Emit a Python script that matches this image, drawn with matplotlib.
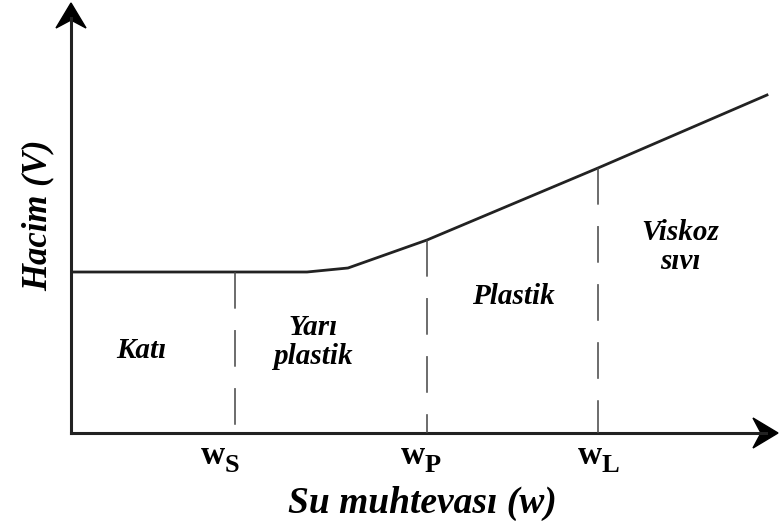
import matplotlib.pyplot as plt
from matplotlib.patches import Polygon

# Hacim - su muhtevasi iliskisi (kivam limitleri)
w_curve = [0, 236, 277, 356, 527, 696]
v_curve = [161, 161, 165, 193, 265, 338]

limit_subs = ['S', 'P', 'L']
limit_w = [164, 356, 527]
limit_label_w = [142, 342, 519]

region_names = ['Katı', 'Yarı\nplastik', 'Plastik', 'Viskoz\nsıvı']
region_w = [70, 242, 442, 609]
region_v = [83, 91, 136, 186]

plt.rcParams['font.family'] = ['Liberation Serif', 'DejaVu Serif']

fig = plt.figure(figsize=(7.81, 5.21), dpi=100)
ax = fig.add_axes([71 / 781, 88 / 521, 707 / 781, 430 / 521])
ax.set_xlim(0, 707)
ax.set_ylim(0, 430)
ax.axis('off')

# axes lines with arrow heads
ax.plot([0, 0], [0, 415], color='#222222', lw=2.2, clip_on=False)
ax.plot([0, 695], [0, 0], color='#222222', lw=2.2, clip_on=False)
ax.add_patch(Polygon([(0, 430), (-15, 405), (0, 413), (15, 405)], closed=True,
                     color='black', clip_on=False))
ax.add_patch(Polygon([(707, 0), (682, 15), (690, 0), (682, -15)], closed=True,
                     color='black', clip_on=False))

ax.plot(w_curve, v_curve, color='#222222', lw=2)

for sub, w, lw_ in zip(limit_subs, limit_w, limit_label_w):
    top = 0
    for i in range(len(w_curve) - 1):
        if w_curve[i] <= w <= w_curve[i + 1]:
            f = (w - w_curve[i]) / (w_curve[i + 1] - w_curve[i])
            top = v_curve[i] + f * (v_curve[i + 1] - v_curve[i])
    # dashes start at the curve and run down to the axis
    ax.plot([w, w], [top, 0], color='#444444', lw=1.1, dashes=(24, 14))
    ax.text(lw_, -22, 'w', fontsize=24, fontweight='bold', ha='center', va='center')
    ax.text(lw_ + 12, -33, sub, fontsize=19, fontweight='bold', ha='left', va='center')

for name, w, v in zip(region_names, region_w, region_v):
    ax.text(w, v, name, fontsize=21, fontweight='bold', fontstyle='italic',
            ha='center', va='center', linespacing=1.05)

ax.text(351, -70, 'Su muhtevası (w)', fontsize=27, fontweight='bold',
        fontstyle='italic', ha='center', va='center')
ax.text(-33, 218, 'Hacim (V)', fontsize=25, fontweight='bold',
        fontstyle='italic', ha='center', va='center', rotation=90)

fig.savefig('out.png', dpi=100, facecolor='white')
